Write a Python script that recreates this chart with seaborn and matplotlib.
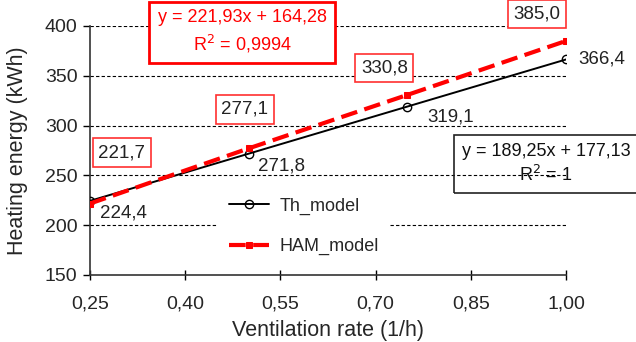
import matplotlib
matplotlib.use("Agg")
import matplotlib.pyplot as plt
import numpy as np
import pandas as pd
import seaborn as sns

# data
rates = [0.25, 0.50, 0.75, 1.00]
th_model = [224.4, 271.8, 319.1, 366.4]
ham_model = [221.7, 277.1, 330.8, 385.0]
x_ticks = [0.25, 0.40, 0.55, 0.70, 0.85, 1.00]
y_ticks = [150, 200, 250, 300, 350, 400]

sns.set_theme(style="white")
plt.rcParams["font.family"] = ["Liberation Sans", "DejaVu Sans"]

df = pd.DataFrame({"rate": rates + rates,
                   "energy": th_model + ham_model,
                   "model": ["Th_model"] * 4 + ["HAM_model"] * 4})

fig = plt.figure(figsize=(6.36, 3.42), dpi=100)
ax = fig.add_axes([0.1415, 0.196, 0.7485, 0.728])

# grid lines (dashed, black)
for yv in y_ticks[1:]:
    ax.axhline(yv, color="black", lw=0.8, ls=(0, (3, 2)), zorder=0)

th = df[df.model == "Th_model"]
ham = df[df.model == "HAM_model"]
sns.lineplot(data=th, x="rate", y="energy", ax=ax, color="black", lw=1.4,
             marker="o", markersize=6, markerfacecolor="none",
             markeredgecolor="black", markeredgewidth=1.0, label="Th_model",
             zorder=3)
sns.lineplot(data=ham, x="rate", y="energy", ax=ax, color="#ff0000", lw=3,
             marker="s", markersize=5,
             markerfacecolor="#ff0000", markeredgecolor="#ff0000",
             label="HAM_model", zorder=4)
ax.lines[-1].set_linestyle((0, (4, 1.8)))

ax.set_xlim(0.25, 1.0)
ax.set_ylim(150, 400)
ax.set_xticks(x_ticks)
ax.set_xticklabels([f"{v:.2f}".replace(".", ",") for v in x_ticks])
ax.set_yticks(y_ticks)
ax.set_yticklabels([str(v) for v in y_ticks])
ax.tick_params(axis="y", direction="out", length=5, width=1, color="black",
               labelsize=14, pad=4, left=True)
ax.tick_params(axis="x", direction="inout", length=7, width=1, color="black",
               labelsize=14, pad=11, bottom=True)
for s in ["top", "right"]:
    ax.spines[s].set_visible(False)
for s in ["left", "bottom"]:
    ax.spines[s].set_color("#333333")
    ax.spines[s].set_linewidth(1.2)
ax.set_xlabel("Ventilation rate (1/h)", fontsize=15.5, labelpad=6)
ax.set_ylabel("Heating energy (kWh)", fontsize=15.5, labelpad=12)

# value labels
th_off = [(10, -12), (9, -12), (20, -10), (12, 0)]
for xv, yv, (dx, dy) in zip(rates, th_model, th_off):
    ax.annotate(f"{yv:.1f}".replace(".", ","), (xv, yv), xytext=(dx, dy),
                textcoords="offset pixels", ha="left", va="center",
                fontsize=13.5, color="#222222", zorder=6)
ham_off = [(32, 51), (-4, 39), (-23, 27), (-29, 27)]
for xv, yv, (dx, dy) in zip(rates, ham_model, ham_off):
    ax.annotate(f"{yv:.1f}".replace(".", ","), (xv, yv), xytext=(dx, dy),
                textcoords="offset pixels", ha="center", va="center",
                fontsize=13.5, color="#222222", zorder=6,
                bbox=dict(boxstyle="square,pad=0.3", fc="white",
                          ec="#ff3030", lw=1.2))

# trend line equations
fig.text(242 / 636, 1 - 32 / 342, "y = 221,93x + 164,28\nR$^2$ = 0,9994",
         ha="center", va="center", fontsize=13, color="#ff0000",
         linespacing=1.35, multialignment="center",
         bbox=dict(boxstyle="square,pad=0.45", fc="white", ec="#ff0000",
                   lw=2))
fig.text(546 / 636, 1 - 164 / 342, "y = 189,25x + 177,13\nR$^2$ = 1",
         ha="center", va="center", fontsize=13, color="#111111",
         linespacing=1.35, multialignment="center",
         bbox=dict(boxstyle="square,pad=0.45", fc="none", ec="#222222",
                   lw=1.2))

leg = ax.legend(loc="upper left", bbox_to_anchor=(0.25, 0.391), fontsize=13,
                frameon=True, facecolor="white", edgecolor="none",
                framealpha=1, labelspacing=1.3, handlelength=2.2,
                handletextpad=0.6, borderpad=0.6)
leg.set_zorder(2)

fig.savefig("out.png", dpi=100)
